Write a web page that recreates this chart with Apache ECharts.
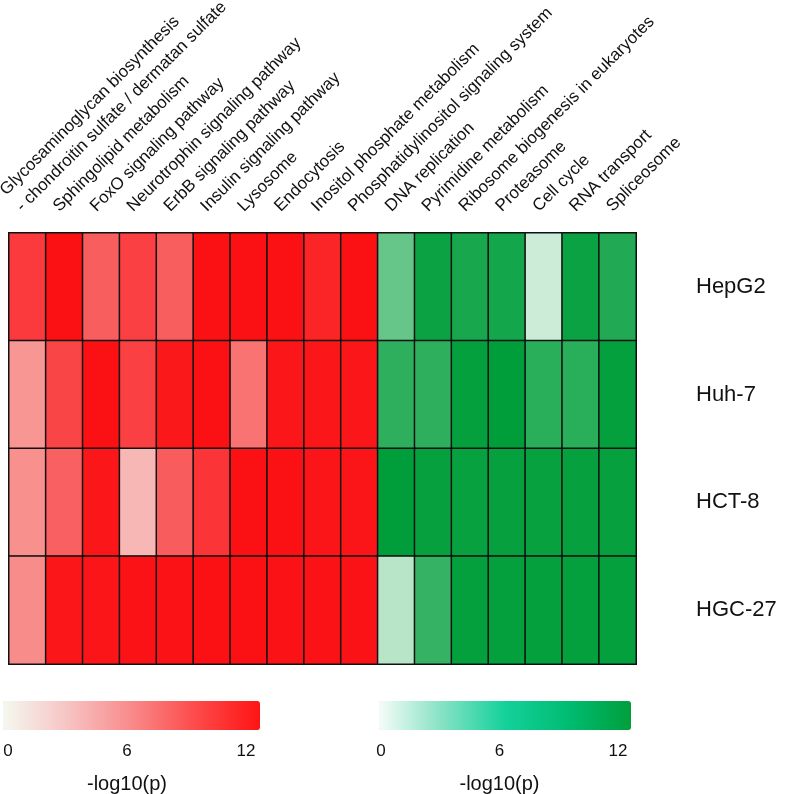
<!DOCTYPE html>
<html>
<head>
<meta charset="utf-8">
<script src="https://cdn.jsdelivr.net/npm/echarts@6/dist/echarts.min.js"></script>
<style>html,body{margin:0;padding:0;background:#fff;}#chart{width:787px;height:794px;}</style>
</head>
<body>
<div id="chart"></div>
<script>
var pathways = [
  "Glycosaminoglycan biosynthesis\n- chondroitin sulfate / dermatan sulfate",
  "Sphingolipid metabolism",
  "FoxO signaling pathway",
  "Neurotrophin signaling pathway",
  "ErbB signaling pathway",
  "Insulin signaling pathway",
  "Lysosome",
  "Endocytosis",
  "Inositol phosphate metabolism",
  "Phosphatidylinositol signaling system",
  "DNA replication",
  "Pyrimidine metabolism",
  "Ribosome biogenesis in eukaryotes",
  "Proteasome",
  "Cell cycle",
  "RNA transport",
  "Spliceosome"
];
var cellLines = ["HepG2", "Huh-7", "HCT-8", "HGC-27"];
var redCount = 10;
// -log10(p), up-regulated pathways (red), rows follow cellLines
var redValues = [
  [9.8, 12.0, 7.9, 9.5, 7.9, 12.0, 12.0, 12.0, 10.9, 12.0],
  [5.0, 9.2, 12.0, 9.5, 11.6, 12.0, 6.8, 11.7, 11.7, 11.7],
  [5.3, 7.8, 11.7, 3.2, 8.0, 10.1, 12.0, 12.0, 11.8, 11.8],
  [5.5, 11.7, 11.8, 11.9, 11.9, 12.0, 12.0, 11.9, 11.9, 11.9]
];
// -log10(p), down-regulated pathways (green)
var greenValues = [
  [7.0, 11.5, 10.8, 11.0, 2.0, 11.5, 10.4],
  [9.8, 9.8, 11.8, 12.0, 10.0, 10.0, 11.8],
  [12.0, 11.7, 11.6, 11.7, 11.6, 11.7, 11.7],
  [3.0, 9.4, 11.8, 11.8, 11.8, 11.8, 11.8]
];
var legendTicks = { min: 0, max: 12, interval: 6 };
var legendName = "-log10(p)";

var redData = [], greenData = [];
redValues.forEach(function (row, r) {
  row.forEach(function (v, c) { redData.push([c, r, v]); });
});
greenValues.forEach(function (row, r) {
  row.forEach(function (v, c) { greenData.push([c + redCount, r, v]); });
});

var FONT = "'Liberation Sans', Arial, sans-serif";
var chart = echarts.init(document.getElementById('chart'), null, { renderer: 'canvas' });

function legendAxis(idx) {
  return {
    type: 'value', gridIndex: idx, position: 'bottom',
    min: legendTicks.min, max: legendTicks.max, interval: legendTicks.interval,
    axisLine: { show: false }, axisTick: { show: false }, splitLine: { show: false },
    axisLabel: { fontSize: 17, color: '#111', fontFamily: FONT, margin: 3 },
    name: legendName, nameLocation: 'middle', nameGap: 34,
    nameTextStyle: { fontSize: 20, color: '#111', fontFamily: FONT }
  };
}

chart.setOption({
  backgroundColor: '#fff',
  animation: false,
  grid: [
    { left: 9, top: 233, width: 627, height: 431, containLabel: false, outerBoundsMode: 'none' },
    { left: 8, top: 739, width: 238, height: 1, containLabel: false, outerBoundsMode: 'none' },
    { left: 381, top: 739, width: 237, height: 1, containLabel: false, outerBoundsMode: 'none' }
  ],
  xAxis: [
    {
      type: 'category', data: pathways, position: 'top', gridIndex: 0,
      axisLine: { show: false }, axisTick: { show: false }, splitLine: { show: false },
      axisLabel: {
        interval: 0, rotate: -45, fontSize: 17, color: '#111', fontFamily: FONT,
        margin: 16, verticalAlign: 'bottom', lineHeight: 23
      }
    },
    legendAxis(1),
    legendAxis(2)
  ],
  yAxis: [
    {
      type: 'category', data: cellLines, inverse: true, position: 'right', gridIndex: 0,
      axisLine: { show: false }, axisTick: { show: false }, splitLine: { show: false },
      axisLabel: { fontSize: 22, color: '#111', fontFamily: FONT, margin: 60, align: 'left' }
    },
    { type: 'value', gridIndex: 1, show: false },
    { type: 'value', gridIndex: 2, show: false }
  ],
  visualMap: [
    {
      type: 'continuous', seriesIndex: 0, min: legendTicks.min, max: legendTicks.max,
      orient: 'horizontal', left: 3, top: 701, itemWidth: 29, itemHeight: 257,
      padding: 0, calculable: false, text: null, showLabel: false, hoverLink: false,
      inRange: { color: ['#f6f5ef', '#fb1014'] },
      controller: { inRange: { color: ['#f4f8f0', '#f7c4c4', '#f98a8a', '#fd4a4a', '#ff1414'] } }
    },
    {
      type: 'continuous', seriesIndex: 1, min: legendTicks.min, max: legendTicks.max,
      orient: 'horizontal', left: 379, top: 701, itemWidth: 29, itemHeight: 252,
      padding: 0, calculable: false, text: null, showLabel: false, hoverLink: false,
      inRange: { color: ['#f5fbf7', '#009e3a'] },
      controller: { inRange: { color: ['#f5fcf8', '#86e2c4', '#14d19b', '#00bc72', '#009f3c'] } }
    }
  ],
  series: [
    {
      type: 'heatmap', xAxisIndex: 0, yAxisIndex: 0, data: redData,
      itemStyle: { borderColor: '#111', borderWidth: 1.5 }
    },
    {
      type: 'heatmap', xAxisIndex: 0, yAxisIndex: 0, data: greenData,
      itemStyle: { borderColor: '#111', borderWidth: 1.5 }
    }
  ]
});
</script>
</body>
</html>
